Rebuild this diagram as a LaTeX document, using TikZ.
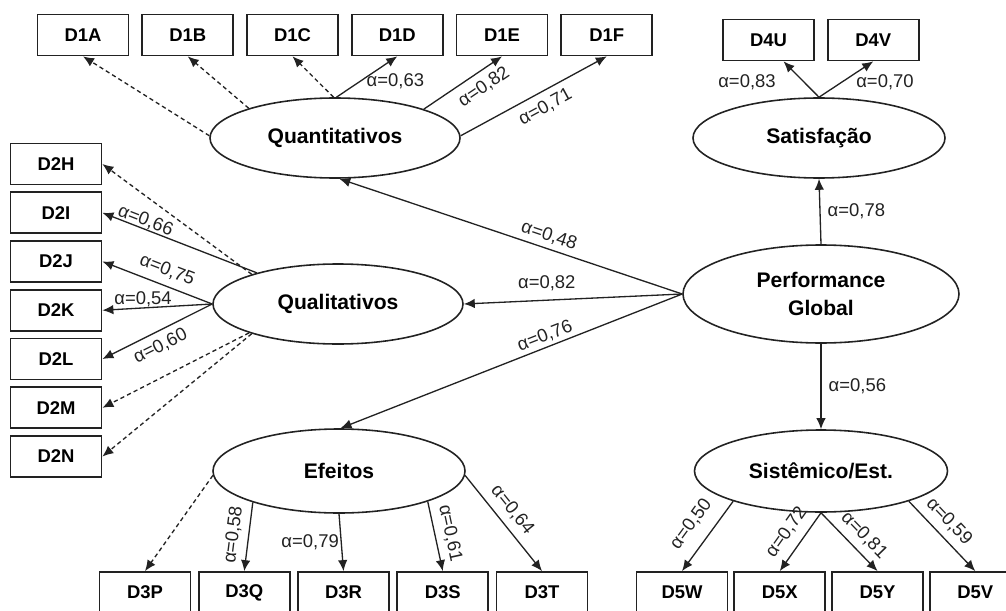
\documentclass[tikz,border=0pt]{standalone}
\usepackage{fontspec}
\setmainfont{Liberation Sans}
\usetikzlibrary{arrows.meta, positioning, shapes.geometric}
\definecolor{lineGray}{HTML}{222222}

\tikzset{
  manifest/.style={draw=lineGray, line width=1pt, minimum width=1.82cm, minimum height=0.82cm,
                   inner sep=0pt, font=\bfseries\fontsize{10.5}{12}\selectfont},
  latent/.style={ellipse, draw=lineGray, line width=0.9pt, inner sep=0pt, align=center,
                 font=\bfseries\fontsize{12}{16}\selectfont},
  load/.style={draw=lineGray, line width=0.75pt, -{Latex[length=2.2mm,width=1.9mm]}},
  weak/.style={load, dash pattern=on 2.4pt off 1.8pt},
  coef/.style={font=\fontsize{10.5}{12}\selectfont, text=lineGray, inner sep=1pt},
}

\begin{document}
\begin{tikzpicture}
  \useasboundingbox (0,0) rectangle (20.12,12.2);

  % latent constructs
  \node[latent, minimum width=5.0cm,  minimum height=1.6cm]  (quant) at (6.70,9.44) {Quantitativos};
  \node[latent, minimum width=5.04cm, minimum height=1.6cm]  (satis) at (16.38,9.44) {Satisfação};
  \node[latent, minimum width=5.0cm,  minimum height=1.6cm]  (quali) at (6.76,6.12) {Qualitativos};
  \node[latent, minimum width=5.52cm, minimum height=1.96cm] (perf)  at (16.42,6.32) {Performance\\Global};
  \node[latent, minimum width=5.04cm, minimum height=1.68cm] (efeit) at (6.78,2.78) {Efeitos};
  \node[latent, minimum width=5.06cm, minimum height=1.64cm] (sist)  at (16.42,2.78) {Sistêmico/Est.};

  % indicators, top row
  \node[manifest] (d1a) at (1.66,11.50) {D1A};
  \node[manifest, right=0.24cm of d1a] (d1b) {D1B};
  \node[manifest, right=0.24cm of d1b] (d1c) {D1C};
  \node[manifest, right=0.24cm of d1c] (d1d) {D1D};
  \node[manifest, right=0.24cm of d1d] (d1e) {D1E};
  \node[manifest, right=0.24cm of d1e] (d1f) {D1F};
  \node[manifest] (d4u) at (15.37,11.40) {D4U};
  \node[manifest, right=0.24cm of d4u] (d4v) {D4V};

  % indicators, left column
  \node[manifest] (d2h) at (1.12,8.92) {D2H};
  \node[manifest, below=0.12cm of d2h] (d2i) {D2I};
  \node[manifest, below=0.12cm of d2i] (d2j) {D2J};
  \node[manifest, below=0.12cm of d2j] (d2k) {D2K};
  \node[manifest, below=0.12cm of d2k] (d2l) {D2L};
  \node[manifest, below=0.12cm of d2l] (d2m) {D2M};
  \node[manifest, below=0.12cm of d2m] (d2n) {D2N};

  % indicators, bottom row
  \node[manifest] (d3p) at (2.90,0.35) {D3P};
  \node[manifest, right=0.13cm of d3p] (d3q) {D3Q};
  \node[manifest, right=0.13cm of d3q] (d3r) {D3R};
  \node[manifest, right=0.13cm of d3r] (d3s) {D3S};
  \node[manifest, right=0.13cm of d3s] (d3t) {D3T};
  \node[manifest] (d5w) at (13.64,0.35) {D5W};
  \node[manifest, right=0.10cm of d5w] (d5x) {D5X};
  \node[manifest, right=0.10cm of d5x] (d5y) {D5Y};
  \node[manifest, right=0.10cm of d5y] (d5v) {D5V};

  % structural paths
  \draw[load] (perf.north) -- (satis.south) node[coef, midway, right=3pt] (c78) {α=0,78};
  \draw[load] (perf.south) -- (sist.north) node[coef, midway, right=3pt] (c56) {α=0,56};
  \draw[load] (perf.west) -- (quant.-84) node[coef, pos=0.4, above=1.5pt, sloped] (c48) {α=0,48};
  \draw[load] (perf.west) -- (quali.east) node[coef, pos=0.62, above=4pt] (c82b) {α=0,82};
  \draw[load] (perf.west) -- (efeit.88) node[coef, pos=0.39, above=0.5pt, sloped] (c76) {α=0,76};

  % Quantitativos
  \draw[weak] (quant.179) -- (d1a.south);
  \draw[weak] (quant.161) -- (d1b.south);
  \draw[weak] (quant.92) -- (d1c.south);
  \draw[load] (quant.88) -- (d1d.south) node[coef, pos=0.4, right=2pt] (c63) {α=0,63};
  \draw[load] (quant.18) -- (d1e.south) node[coef, pos=0.66, below=3pt, sloped] (c82a) {α=0,82};
  \draw[load] (quant.1) -- (d1f.south) node[coef, pos=0.53, below=3pt, sloped] (c71) {α=0,71};

  % Satisfacao
  \draw[load] (satis.north) -- ([xshift=3mm]d4u.south);
  \draw[load] (satis.north) -- (d4v.south);
  \node[coef] (c83) at (14.94,10.56) {α=0,83};
  \node[coef] (c70) at (17.70,10.56) {α=0,70};

  % Qualitativos
  \draw[weak] (quali.161) -- (d2h.east);
  \draw[load] (quali.159) -- (d2i.east) node[coef, pos=0.74, above=-1pt, sloped] (c66) {α=0,66};
  \draw[load] (quali.west) -- (d2j.east) node[coef, pos=0.46, above=3pt, sloped] (c75) {α=0,75};
  \draw[load] (quali.west) -- (d2k.east) node[coef, pos=0.63, above=-1pt] (c54) {α=0,54};
  \draw[load] (quali.west) -- (d2l.east) node[coef, pos=0.53, below=2.5pt, sloped] (c60) {α=0,60};
  \draw[weak] (quali.198) -- (d2m.east);
  \draw[weak] (quali.199) -- (d2n.east);

  % Efeitos
  \draw[weak] (efeit.182) -- (d3p.north);
  \draw[load] (efeit.200) -- (d3q.north) node[coef, midway, above=3pt, sloped] (c58) {α=0,58};
  \draw[load] (efeit.south) -- (d3r.north) node[coef, midway, left] (c79) {α=0,79};
  \draw[load] (efeit.341) -- (d3s.north) node[coef, midway, above=3pt, sloped] (c61) {α=0,61};
  \draw[load] (efeit.-2) -- (d3t.north) node[coef, pos=0.46, above=3pt, sloped] (c64) {α=0,64};

  % Sistemico
  \draw[load] (sist.199) -- (d5w.north) node[coef, midway, above=6pt, sloped] (c50) {α=0,50};
  \draw[load] (sist.south) -- (d5x.north) node[coef, midway, above=4pt, sloped] (c72) {α=0,72};
  \draw[load] (sist.south) -- (d5y.north) node[coef, pos=0.57, above=3pt, sloped] (c81) {α=0,81};
  \draw[load] (sist.341) -- (d5v.north) node[coef, pos=0.44, above=3pt, sloped] (c59) {α=0,59};
\end{tikzpicture}
\end{document}
